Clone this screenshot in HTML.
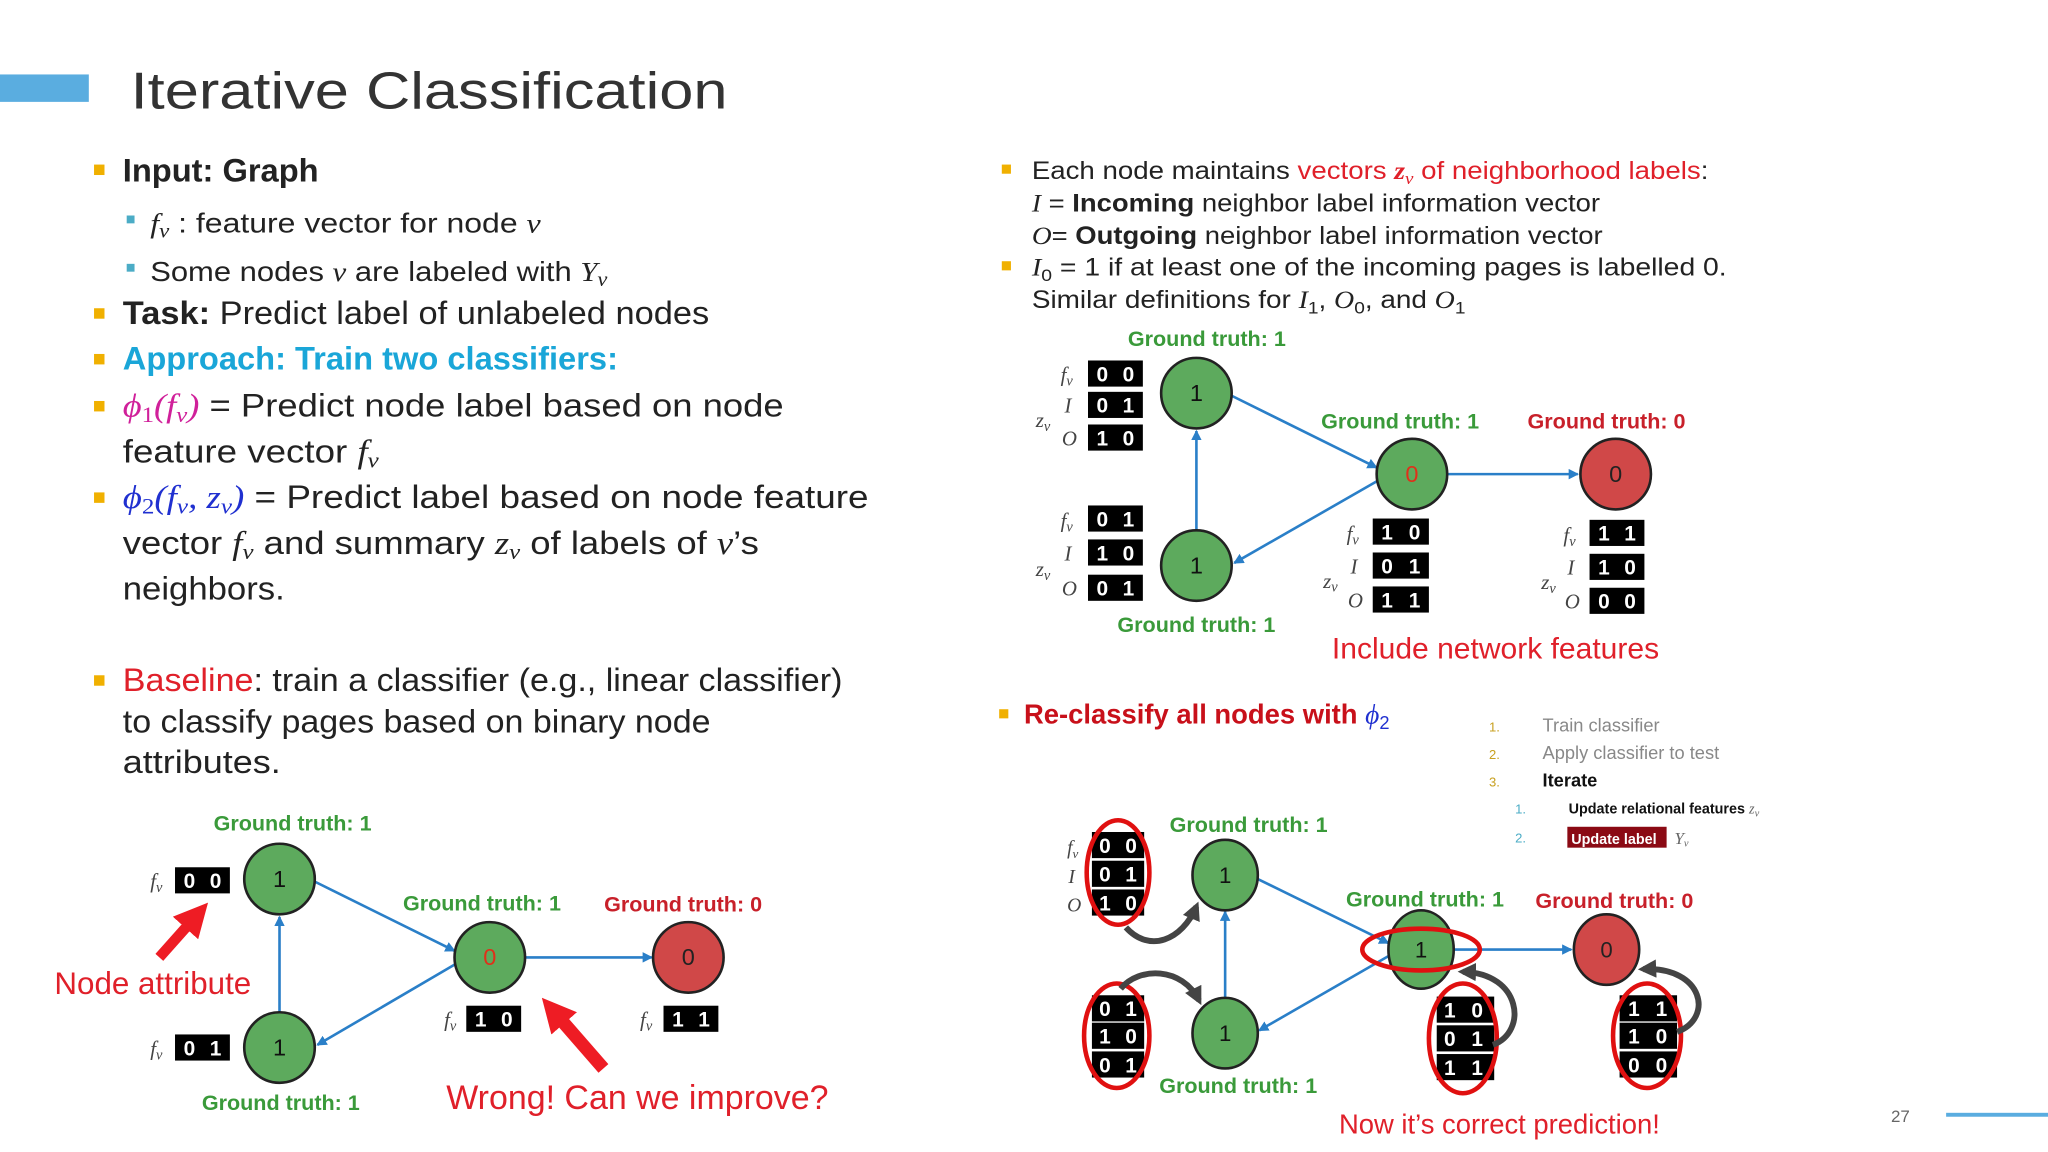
<!DOCTYPE html>
<html><head><meta charset="utf-8"><style>
html,body{margin:0;padding:0;background:#fff;}
svg{display:block;}
text{font-family:"Liberation Sans",sans-serif;}
.s{font-family:"Liberation Serif",serif;font-style:italic;}
.b{font-weight:bold;}
.gt{font-weight:bold;font-size:16.5px;fill:#3a9a3a;}
.gr{font-weight:bold;font-size:16.5px;fill:#c8202a;}
.cell{font-weight:bold;font-size:16px;fill:#fff;text-anchor:middle;}
</style></head><body>
<svg width="2048" height="1152" viewBox="0 0 1568 882" xmlns="http://www.w3.org/2000/svg">
<defs>
<marker id="ab" markerWidth="8" markerHeight="8" refX="7" refY="4" orient="auto" markerUnits="userSpaceOnUse"><path d="M0,0 L8,4 L0,8 z" fill="#2a7fc8"/></marker>
<marker id="ag" markerWidth="14" markerHeight="14" refX="10" refY="7" orient="auto" markerUnits="userSpaceOnUse"><path d="M0,0 L14,7 L0,14 z" fill="#444"/></marker>
<marker id="ar" markerWidth="26" markerHeight="26" refX="6" refY="13" orient="auto" markerUnits="userSpaceOnUse"><path d="M0,0 L26,13 L0,26 z" fill="#ee1c24"/></marker>
</defs>
<rect x="0" y="57" width="68" height="21" fill="#5aade0"/>
<text x="100" y="83" font-size="40" fill="#333" textLength="457" lengthAdjust="spacingAndGlyphs">Iterative Classification</text>

<g font-size="25" fill="#222">
<rect x="72" y="126" width="8" height="8" fill="#f0b000"/>
<text x="94" y="139" class="b">Input: Graph</text>
<rect x="97" y="165" width="6" height="6" fill="#4bacc6"/>
<text x="115" y="178" font-size="21" textLength="299" lengthAdjust="spacingAndGlyphs"><tspan class="s">f</tspan><tspan class="s" font-size="15" dy="4">v</tspan><tspan dy="-4"> : feature vector for node </tspan><tspan class="s">v</tspan></text>
<rect x="97" y="202" width="6" height="6" fill="#4bacc6"/>
<text x="115" y="215" font-size="21" textLength="350" lengthAdjust="spacingAndGlyphs">Some nodes <tspan class="s">v</tspan> are labeled with <tspan class="s">Y</tspan><tspan class="s" font-size="15" dy="4">v</tspan></text>
<rect x="72" y="236" width="8" height="8" fill="#f0b000"/>
<text x="94" y="248" textLength="449" lengthAdjust="spacingAndGlyphs"><tspan class="b">Task:</tspan> Predict label of unlabeled nodes</text>
<rect x="72" y="271" width="8" height="8" fill="#f0b000"/>
<text x="94" y="283" class="b" fill="#1aa6d8">Approach: Train two classifiers:</text>
<rect x="72" y="307" width="8" height="8" fill="#f0b000"/>
<text x="94" y="319" textLength="506" lengthAdjust="spacingAndGlyphs"><tspan class="s" fill="#d0209a">ϕ</tspan><tspan font-size="17" dy="4" fill="#d0209a" font-family="Liberation Serif">1</tspan><tspan dy="-4" class="s" fill="#d0209a">(f</tspan><tspan class="s" font-size="17" dy="4" fill="#d0209a">v</tspan><tspan dy="-4" class="s" fill="#d0209a">)</tspan> = Predict node label based on node</text>
<text x="94" y="354" textLength="196" lengthAdjust="spacingAndGlyphs">feature vector <tspan class="s">f</tspan><tspan class="s" font-size="17" dy="4">v</tspan></text>
<rect x="72" y="377" width="8" height="8" fill="#f0b000"/>
<text x="94" y="389" textLength="571" lengthAdjust="spacingAndGlyphs"><tspan class="s" fill="#2030d0">ϕ</tspan><tspan font-size="17" dy="4" fill="#2030d0" font-family="Liberation Serif">2</tspan><tspan dy="-4" class="s" fill="#2030d0">(f</tspan><tspan class="s" font-size="17" dy="4" fill="#2030d0">v</tspan><tspan dy="-4" class="s" fill="#2030d0">, z</tspan><tspan class="s" font-size="17" dy="4" fill="#2030d0">v</tspan><tspan dy="-4" class="s" fill="#2030d0">)</tspan> = Predict label based on node feature</text>
<text x="94" y="424" textLength="487" lengthAdjust="spacingAndGlyphs">vector <tspan class="s">f</tspan><tspan class="s" font-size="17" dy="4">v</tspan><tspan dy="-4"> and summary </tspan><tspan class="s">z</tspan><tspan class="s" font-size="17" dy="4">v</tspan><tspan dy="-4"> of labels of </tspan><tspan class="s">v</tspan>’s</text>
<text x="94" y="459" textLength="124" lengthAdjust="spacingAndGlyphs">neighbors.</text>
<rect x="72" y="517" width="8" height="8" fill="#f0b000"/>
<text x="94" y="529" textLength="551" lengthAdjust="spacingAndGlyphs"><tspan fill="#e0202a">Baseline</tspan>: train a classifier (e.g., linear classifier)</text>
<text x="94" y="561" textLength="450" lengthAdjust="spacingAndGlyphs">to classify pages based on binary node</text>
<text x="94" y="592" textLength="121" lengthAdjust="spacingAndGlyphs">attributes.</text>
</g>

<g font-size="19" fill="#222">
<rect x="767" y="126" width="7" height="7" fill="#f0b000"/>
<text x="790" y="137" textLength="518" lengthAdjust="spacingAndGlyphs">Each node maintains <tspan fill="#e0202a">vectors </tspan><tspan class="s b" fill="#e0202a">z</tspan><tspan class="s" font-size="13" dy="4" fill="#e0202a">v</tspan><tspan dy="-4" fill="#e0202a"> of neighborhood labels</tspan>:</text>
<text x="790" y="162" textLength="435" lengthAdjust="spacingAndGlyphs"><tspan class="s">I</tspan> = <tspan class="b">Incoming</tspan> neighbor label information vector</text>
<text x="790" y="187" textLength="437" lengthAdjust="spacingAndGlyphs"><tspan class="s">O</tspan>= <tspan class="b">Outgoing</tspan> neighbor label information vector</text>
<rect x="767" y="200" width="7" height="7" fill="#f0b000"/>
<text x="790" y="211" textLength="532" lengthAdjust="spacingAndGlyphs"><tspan class="s">I</tspan><tspan font-size="13" dy="4">0</tspan><tspan dy="-4"> = 1 if at least one of the incoming pages is labelled 0.</tspan></text>
<text x="790" y="236" textLength="332" lengthAdjust="spacingAndGlyphs">Similar definitions for <tspan class="s">I</tspan><tspan font-size="13" dy="4">1</tspan><tspan dy="-4">, </tspan><tspan class="s">O</tspan><tspan font-size="13" dy="4">0</tspan><tspan dy="-4">, and </tspan><tspan class="s">O</tspan><tspan font-size="13" dy="4">1</tspan></text>
</g>

<!-- Diagram 1 -->
<g stroke="#2a7fc8" stroke-width="2" fill="none">
<line x1="916" y1="406" x2="916" y2="330" marker-end="url(#ab)"/>
<line x1="943" y1="303" x2="1054" y2="358" marker-end="url(#ab)"/>
<line x1="1055" y1="368" x2="945" y2="431" marker-end="url(#ab)"/>
<line x1="1108" y1="363" x2="1208" y2="363" marker-end="url(#ab)"/>
</g>
<g stroke="#222" stroke-width="2">
<circle cx="916" cy="301" r="27" fill="#5daa5d"/>
<circle cx="916" cy="433" r="27" fill="#5daa5d"/>
<circle cx="1081" cy="363" r="27" fill="#5daa5d"/>
<circle cx="1237" cy="363" r="27" fill="#d04848"/>
</g>
<g font-size="18" text-anchor="middle">
<text x="916" y="307" fill="#111">1</text><text x="916" y="439" fill="#111">1</text>
<text x="1081" y="369" fill="#e0301a">0</text><text x="1237" y="369" fill="#222">0</text>
</g>
<text x="924" y="265" class="gt" text-anchor="middle">Ground truth: 1</text>
<text x="1072" y="328" class="gt" text-anchor="middle">Ground truth: 1</text>
<text x="1230" y="328" class="gr" text-anchor="middle">Ground truth: 0</text>
<text x="916" y="484" class="gt" text-anchor="middle">Ground truth: 1</text>
<text x="1145" y="504" font-size="23" fill="#e0202a" text-anchor="middle">Include network features</text>

<g>
<rect x="833" y="276" width="42" height="20" fill="#000"/><rect x="833" y="300" width="42" height="20" fill="#000"/><rect x="833" y="325" width="42" height="20" fill="#000"/>
<text x="844" y="292" class="cell">0</text><text x="864" y="292" class="cell">0</text>
<text x="844" y="316" class="cell">0</text><text x="864" y="316" class="cell">1</text>
<text x="844" y="341" class="cell">1</text><text x="864" y="341" class="cell">0</text>
<rect x="833" y="387" width="42" height="20" fill="#000"/><rect x="833" y="413" width="42" height="20" fill="#000"/><rect x="833" y="440" width="42" height="20" fill="#000"/>
<text x="844" y="403" class="cell">0</text><text x="864" y="403" class="cell">1</text>
<text x="844" y="429" class="cell">1</text><text x="864" y="429" class="cell">0</text>
<text x="844" y="456" class="cell">0</text><text x="864" y="456" class="cell">1</text>
<rect x="1051" y="397" width="43" height="20" fill="#000"/><rect x="1051" y="423" width="43" height="20" fill="#000"/><rect x="1051" y="449" width="43" height="20" fill="#000"/>
<text x="1062" y="413" class="cell">1</text><text x="1083" y="413" class="cell">0</text>
<text x="1062" y="439" class="cell">0</text><text x="1083" y="439" class="cell">1</text>
<text x="1062" y="465" class="cell">1</text><text x="1083" y="465" class="cell">1</text>
<rect x="1217" y="398" width="42" height="20" fill="#000"/><rect x="1217" y="424" width="42" height="20" fill="#000"/><rect x="1217" y="450" width="42" height="20" fill="#000"/>
<text x="1228" y="414" class="cell">1</text><text x="1248" y="414" class="cell">1</text>
<text x="1228" y="440" class="cell">1</text><text x="1248" y="440" class="cell">0</text>
<text x="1228" y="466" class="cell">0</text><text x="1248" y="466" class="cell">0</text>
</g>
<g font-size="16" fill="#444">
<text x="812" y="292" class="s">f<tspan font-size="11" dy="3">v</tspan></text><text x="815" y="316" class="s">I</text><text x="793" y="327" class="s">z<tspan font-size="11" dy="3">v</tspan></text><text x="813" y="341" class="s">O</text>
<text x="812" y="404" class="s">f<tspan font-size="11" dy="3">v</tspan></text><text x="815" y="429" class="s">I</text><text x="793" y="441" class="s">z<tspan font-size="11" dy="3">v</tspan></text><text x="813" y="456" class="s">O</text>
<text x="1031" y="414" class="s">f<tspan font-size="11" dy="3">v</tspan></text><text x="1034" y="439" class="s">I</text><text x="1013" y="450" class="s">z<tspan font-size="11" dy="3">v</tspan></text><text x="1032" y="465" class="s">O</text>
<text x="1197" y="415" class="s">f<tspan font-size="11" dy="3">v</tspan></text><text x="1200" y="440" class="s">I</text><text x="1180" y="451" class="s">z<tspan font-size="11" dy="3">v</tspan></text><text x="1198" y="466" class="s">O</text>
</g>

<!-- Diagram 2 -->
<g stroke="#2a7fc8" stroke-width="2" fill="none">
<line x1="214" y1="775" x2="214" y2="702" marker-end="url(#ab)"/>
<line x1="241" y1="675" x2="348" y2="728" marker-end="url(#ab)"/>
<line x1="349" y1="738" x2="243" y2="800" marker-end="url(#ab)"/>
<line x1="402" y1="733" x2="499" y2="733" marker-end="url(#ab)"/>
</g>
<g stroke="#222" stroke-width="2">
<circle cx="214" cy="673" r="27" fill="#5daa5d"/>
<circle cx="214" cy="802" r="27" fill="#5daa5d"/>
<circle cx="375" cy="733" r="27" fill="#5daa5d"/>
<circle cx="527" cy="733" r="27" fill="#d04848"/>
</g>
<g font-size="18" text-anchor="middle">
<text x="214" y="679" fill="#111">1</text><text x="214" y="808" fill="#111">1</text>
<text x="375" y="739" fill="#e0301a">0</text><text x="527" y="739" fill="#222">0</text>
</g>
<text x="224" y="636" class="gt" text-anchor="middle">Ground truth: 1</text>
<text x="369" y="697" class="gt" text-anchor="middle">Ground truth: 1</text>
<text x="523" y="698" class="gr" text-anchor="middle">Ground truth: 0</text>
<text x="215" y="850" class="gt" text-anchor="middle">Ground truth: 1</text>
<rect x="134" y="664" width="42" height="20" fill="#000"/><text x="145" y="680" class="cell">0</text><text x="165" y="680" class="cell">0</text>
<rect x="134" y="792" width="42" height="20" fill="#000"/><text x="145" y="808" class="cell">0</text><text x="165" y="808" class="cell">1</text>
<rect x="357" y="770" width="42" height="20" fill="#000"/><text x="368" y="786" class="cell">1</text><text x="388" y="786" class="cell">0</text>
<rect x="508" y="770" width="42" height="20" fill="#000"/><text x="519" y="786" class="cell">1</text><text x="539" y="786" class="cell">1</text>
<g font-size="16" fill="#444">
<text x="115" y="680" class="s">f<tspan font-size="11" dy="3">v</tspan></text>
<text x="115" y="808" class="s">f<tspan font-size="11" dy="3">v</tspan></text>
<text x="340" y="786" class="s">f<tspan font-size="11" dy="3">v</tspan></text>
<text x="490" y="786" class="s">f<tspan font-size="11" dy="3">v</tspan></text>
</g>
<line x1="122" y1="733" x2="146" y2="706" stroke="#ee1c24" stroke-width="8" marker-end="url(#ar)"/>
<text x="117" y="761" font-size="24" fill="#e0202a" text-anchor="middle">Node attribute</text>
<line x1="462" y1="818" x2="428" y2="779" stroke="#ee1c24" stroke-width="10" marker-end="url(#ar)"/>
<text x="488" y="849" font-size="26" fill="#e0202a" text-anchor="middle">Wrong! Can we improve?</text>

<!-- Diagram 3 -->
<rect x="765" y="543" width="7" height="7" fill="#f0b000"/>
<text x="784" y="554" font-size="21" class="b" fill="#c8101a">Re-classify all nodes with <tspan class="s" fill="#2030d0" font-weight="normal">ϕ</tspan><tspan font-size="14" dy="4" fill="#2030d0" font-weight="normal">2</tspan></text>
<g font-size="14">
<text x="1140" y="560" fill="#c8a020" font-size="10">1.</text><text x="1181" y="560" fill="#888">Train classifier</text>
<text x="1140" y="581" fill="#c8a020" font-size="10">2.</text><text x="1181" y="581" fill="#888">Apply classifier to test</text>
<text x="1140" y="602" fill="#c8a020" font-size="10">3.</text><text x="1181" y="602" fill="#111" class="b">Iterate</text>
<text x="1160" y="623" fill="#4bacc6" font-size="10">1.</text><text x="1201" y="623" fill="#111" class="b" font-size="11">Update relational features <tspan class="s" font-weight="normal" fill="#666">z<tspan font-size="8" dy="2">v</tspan></tspan></text>
<text x="1160" y="645" fill="#4bacc6" font-size="10">2.</text>
<rect x="1200" y="633" width="76" height="16" fill="#8b0a14"/>
<text x="1203" y="646" fill="#fff" class="b" font-size="11">Update label</text>
<text x="1282" y="646" class="s" fill="#666" font-size="13">Y<tspan font-size="8" dy="2">v</tspan></text>
</g>
<g stroke="#2a7fc8" stroke-width="2" fill="none">
<line x1="938" y1="765" x2="938" y2="698" marker-end="url(#ab)"/>
<line x1="963" y1="673" x2="1063" y2="722" marker-end="url(#ab)"/>
<line x1="1063" y1="732" x2="964" y2="789" marker-end="url(#ab)"/>
<line x1="1113" y1="727" x2="1203" y2="727" marker-end="url(#ab)"/>
</g>
<g stroke="#222" stroke-width="2">
<ellipse cx="938" cy="670" rx="25" ry="27" fill="#5daa5d"/>
<ellipse cx="938" cy="791" rx="25" ry="27" fill="#5daa5d"/>
<ellipse cx="1088" cy="727" rx="25" ry="30" fill="#5daa5d"/>
<ellipse cx="1230" cy="727" rx="25" ry="27" fill="#d04848"/>
</g>
<g font-size="17" text-anchor="middle">
<text x="938" y="676" fill="#111">1</text><text x="938" y="797" fill="#111">1</text>
<text x="1088" y="733" fill="#111">1</text><text x="1230" y="733" fill="#222">0</text>
</g>
<text x="956" y="637" class="gt" text-anchor="middle">Ground truth: 1</text>
<text x="1091" y="694" class="gt" text-anchor="middle">Ground truth: 1</text>
<text x="1236" y="695" class="gr" text-anchor="middle">Ground truth: 0</text>
<text x="948" y="837" class="gt" text-anchor="middle">Ground truth: 1</text>
<g>
<rect x="836" y="637" width="40" height="20" fill="#000"/><rect x="836" y="659" width="40" height="20" fill="#000"/><rect x="836" y="681" width="40" height="20" fill="#000"/>
<text x="846" y="653" class="cell">0</text><text x="866" y="653" class="cell">0</text>
<text x="846" y="675" class="cell">0</text><text x="866" y="675" class="cell">1</text>
<text x="846" y="697" class="cell">1</text><text x="866" y="697" class="cell">0</text>
<rect x="836" y="762" width="40" height="20" fill="#000"/><rect x="836" y="783" width="40" height="20" fill="#000"/><rect x="836" y="805" width="40" height="20" fill="#000"/>
<text x="846" y="778" class="cell">0</text><text x="866" y="778" class="cell">1</text>
<text x="846" y="799" class="cell">1</text><text x="866" y="799" class="cell">0</text>
<text x="846" y="821" class="cell">0</text><text x="866" y="821" class="cell">1</text>
<rect x="1100" y="763" width="44" height="20" fill="#000"/><rect x="1100" y="785" width="44" height="20" fill="#000"/><rect x="1100" y="807" width="44" height="20" fill="#000"/>
<text x="1110" y="779" class="cell">1</text><text x="1131" y="779" class="cell">0</text>
<text x="1110" y="801" class="cell">0</text><text x="1131" y="801" class="cell">1</text>
<text x="1110" y="823" class="cell">1</text><text x="1131" y="823" class="cell">1</text>
<rect x="1240" y="762" width="44" height="20" fill="#000"/><rect x="1240" y="783" width="44" height="20" fill="#000"/><rect x="1240" y="805" width="44" height="20" fill="#000"/>
<text x="1251" y="778" class="cell">1</text><text x="1272" y="778" class="cell">1</text>
<text x="1251" y="799" class="cell">1</text><text x="1272" y="799" class="cell">0</text>
<text x="1251" y="821" class="cell">0</text><text x="1272" y="821" class="cell">0</text>
</g>
<g font-size="15" fill="#444">
<text x="817" y="654" class="s">f<tspan font-size="10" dy="3">v</tspan></text><text x="818" y="676" class="s">I</text><text x="817" y="698" class="s">O</text>
</g>
<g stroke="#e01010" stroke-width="3.5" fill="none">
<ellipse cx="856" cy="668" rx="24" ry="40"/>
<ellipse cx="855" cy="793" rx="25" ry="40"/>
<ellipse cx="1120" cy="795" rx="26" ry="42"/>
<ellipse cx="1261" cy="793" rx="26" ry="40"/>
<ellipse cx="1088" cy="727" rx="45" ry="16"/>
</g>
<g stroke="#444" stroke-width="4.5" fill="none">
<path d="M862,710 C880,730 905,720 916,694" marker-end="url(#ag)"/>
<path d="M858,757 C872,740 905,740 918,766" marker-end="url(#ag)"/>
<path d="M1143,800 C1170,790 1165,745 1120,744" marker-end="url(#ag)"/>
<path d="M1284,790 C1312,780 1305,740 1258,742" marker-end="url(#ag)"/>
</g>
<text x="1148" y="868" font-size="21" fill="#e0202a" text-anchor="middle">Now it’s correct prediction!</text>

<text x="1455" y="859" font-size="13" fill="#666" text-anchor="middle">27</text>
<rect x="1490" y="852" width="78" height="3" fill="#5aade0"/>
</svg>
</body></html>
